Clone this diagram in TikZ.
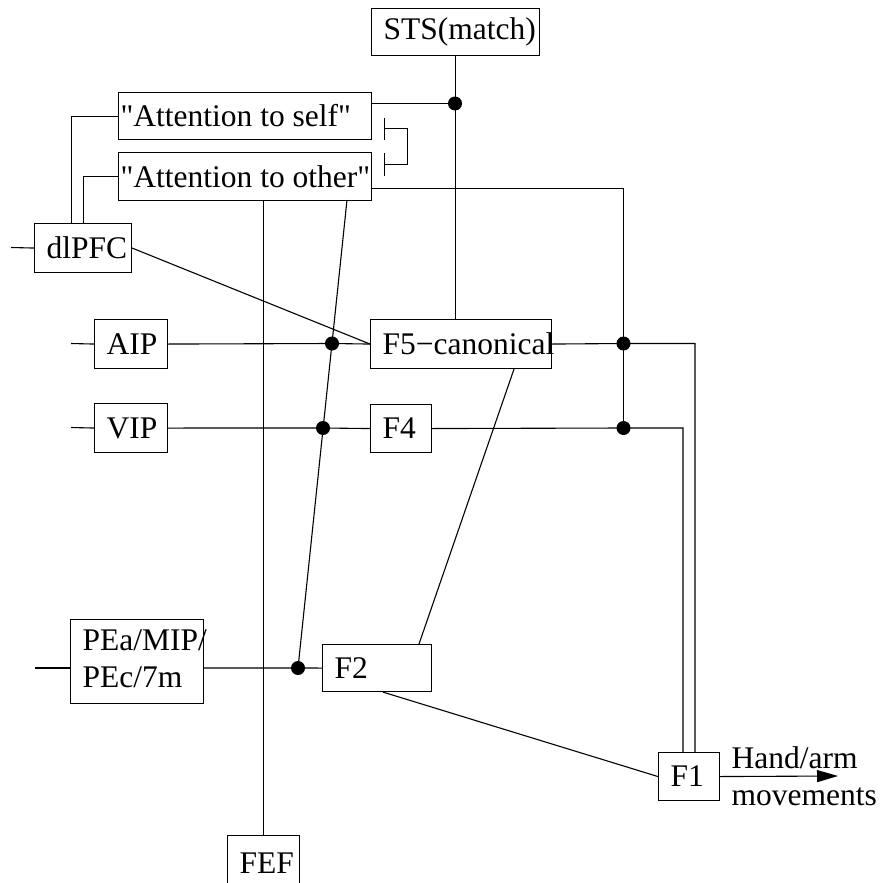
\documentclass[tikz,border=0pt]{standalone}
\usepackage{fontspec}
\setmainfont{Liberation Serif}[Ligatures=TeXOff]
\usetikzlibrary{arrows.meta,calc}
% left-aligned label of fixed width inside a box (may overflow to the right)
\newcommand\fixw[2]{\makebox[#1][l]{#2}}
\begin{document}
\begin{tikzpicture}[x=1pt,y=-1pt,line width=1.1pt,
  txt/.style={font=\fontsize{31.5}{36.5}\selectfont},
  box/.style={txt,draw,anchor=north west,inner xsep=12pt,inner ysep=0pt},
  attn/.style={box,inner xsep=2pt},
  inhib/.style={{Bar[width=22pt]}-{Bar[width=23pt]}},
  motorout/.style={-{Triangle[length=21pt,width=12pt]}}]
\clip (0,0) rectangle (882,883);

% areas
\node[box,minimum width=168pt,minimum height=47pt] (sts) at (371,8) {\fixw{144pt}{STS(match)}};
\node[attn,minimum width=253pt,minimum height=47pt] (aself) at (118,92) {\fixw{249pt}{"Attention to self"}};
\node[attn,minimum width=253pt,minimum height=48pt] (aother) at (118,152) {\fixw{249pt}{"Attention to other"}};
\node[box,minimum width=97pt,minimum height=49pt] (dlpfc) at (34,223) {\fixw{73pt}{dlPFC}};
\node[box,minimum width=73pt,minimum height=49pt] (aip) at (94,319) {\fixw{49pt}{AIP}};
\node[box,minimum width=73pt,minimum height=49pt] (vip) at (94,403) {\fixw{49pt}{VIP}};
\node[box,minimum width=181pt,minimum height=49pt] (f5) at (370,319) {\fixw{157pt}{F5−canonical}};
\node[box,minimum width=61pt,minimum height=48pt] (f4) at (370,404) {\fixw{37pt}{F4}};
\node[box,minimum width=133pt,minimum height=84pt] (pea) at (70,619)
  {\fixw{109pt}{\begin{tabular}{@{}l@{}}PEa/MIP/\\PEc/7m\end{tabular}}};
\node[box,minimum width=109pt,minimum height=47pt] (f2) at (322,644) {\fixw{85pt}{F2}};
\node[box,minimum width=61pt,minimum height=48pt] (f1) at (658,752) {\fixw{37pt}{F1}};
\node[box,minimum width=72pt,minimum height=55pt] (fef) at (227,835) {\fixw{48pt}{FEF}};
\node[txt,anchor=west,inner sep=0pt,align=left] (hand) at (731,776) {Hand/arm\\movements};

% junctions and bends
\coordinate (jS) at (455,103.5);
\coordinate (tR) at (623.5,188.5);
\coordinate (j5) at (623.5,343.5);
\coordinate (j4) at (623.5,428);
\coordinate (r5) at (695,343.5);
\coordinate (r4) at (683,428);
\coordinate (sl) at (347,200);
\coordinate (jA) at (332,343.5);
\coordinate (jV) at (323,428);
\coordinate (jP) at (298,668);
\coordinate (tip) at (838,776);

% external inputs
\draw (11,247.5) -- (dlpfc.west);
\draw (71,343.5) -- (aip.west);
\draw (71,427.5) -- (vip.west);
\draw (35,668) -- (pea.west |- jP);

% STS match line
\draw (sts.south) -- (sts.south |- f5.north);
\draw (aself.east |- jS) -- (jS);

% mutual inhibition of the attention units
\coordinate (inhA) at (383.5,128.5);
\coordinate (inhB) at (383.5,164.5);
\draw[inhib] (inhA) -- (407.5,128.5) -- (407.5,164.5) -- (inhB);

% dlPFC control of attention
\draw (aself.west) -| ($(dlpfc.north west)+(37.5,0)$);
\draw (aother.west) -| ($(dlpfc.north west)+(49.5,0)$);
\draw (dlpfc.east) -- (f5.west);

% attention to other
\draw (aother.east |- tR) -- (tR) -- (j5);
\draw (j5) -- (j4);
\draw (sl) -- (jP);
\draw (fef.north |- aother.south) -- (fef.north);

% parietal to premotor
\draw (aip.east) -- (jA) -- (f5.west);
\draw (vip.east) -- (jV) -- (f4.west);
\draw (pea.east |- jP) -- (jP) -- (f2.west);

% premotor to F1
\draw (f5.east) -- (j5) -- (r5) -- (r5 |- f1.north);
\draw (f4.east) -- (j4) -- (r4) -- (r4 |- f1.north);
\draw ($(f5.south west)+(144,0)$) -- ($(f2.north west)+(97,0)$);
\draw ($(f2.south west)+(61,0)$) -- (f1.west);
\draw[motorout] (f1.east) -- (tip);

% junction dots
\foreach \c in {jS,j5,j4,jA,jV,jP} \fill (\c) circle (7pt);
\end{tikzpicture}
\end{document}
